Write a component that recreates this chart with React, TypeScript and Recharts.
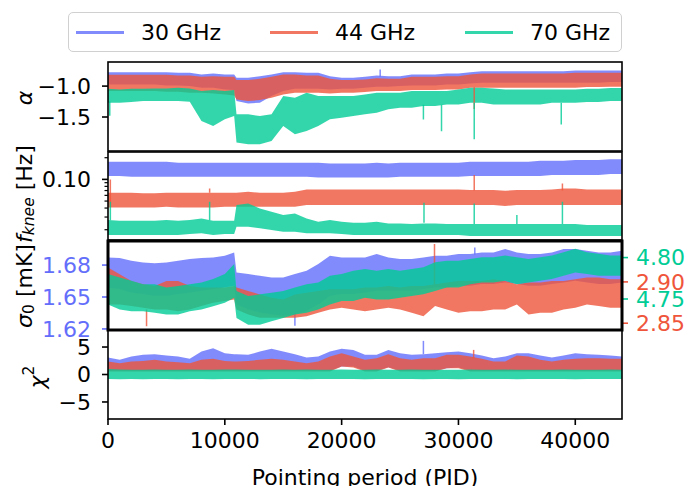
import React from "react";
import { ComposedChart, Area, Line, XAxis, YAxis } from "recharts";

const W = 689;
const H = 486;
const PLOT_LEFT = 108;
const PLOT_RIGHT = 622;
const AXIS_W = 60;
const FONT = "'DejaVu Sans', sans-serif";
const FS = 22;

const C30 = "#636EFA";
const C44 = "#EF553B";
const C70 = "#00CC96";

const SERIES = [
  { name: "30 GHz", color: C30 },
  { name: "44 GHz", color: C44 },
  { name: "70 GHz", color: C70 },
];

// pointing periods where the envelope of each band was sampled
const PID = [
  0, 1000, 2000, 3000, 4000, 5000, 6000, 7000, 8000, 9000, 10000, 10800, 11000,
  12000, 13000, 14000, 15000, 16000, 17000, 18000, 19000, 20000, 21000, 22000,
  23000, 24000, 25000, 26000, 27000, 28000, 29000, 30000, 31000, 32000, 33000,
  34000, 35000, 36000, 37000, 38000, 39000, 40000, 41000, 42000, 43000, 44000,
];
const PID_TICKS = [0, 10000, 20000, 30000, 40000];

// spectral index alpha: lower / upper envelope
const ALPHA_30_HI = [
  -0.774, -0.774, -0.774, -0.774, -0.774, -0.774, -0.785, -0.785, -0.812, -0.796, -0.812, -0.812,
  -0.866, -0.866, -0.839, -0.812, -0.774, -0.774, -0.785, -0.785, -0.839, -0.866, -0.866, -0.849,
  -0.828, -0.839, -0.839, -0.812, -0.812, -0.812, -0.796, -0.796, -0.774, -0.758, -0.758, -0.758,
  -0.758, -0.758, -0.758, -0.758, -0.758, -0.747, -0.747, -0.747, -0.747, -0.747,
];
const ALPHA_30_LO = [
  -0.973, -0.973, -0.973, -0.973, -0.973, -0.989, -0.989, -1.0, -1.027, -1.027, -1.054, -1.065,
  -1.242, -1.28, -1.269, -1.161, -1.081, -1.043, -1.043, -1.043, -1.054, -1.043, -1.043, -1.027,
  -1.011, -1.011, -1.0, -0.989, -0.989, -0.989, -0.973, -0.973, -0.957, -0.946, -0.946, -0.946,
  -0.946, -0.946, -0.946, -0.946, -0.946, -0.946, -0.946, -0.946, -0.935, -0.935,
];
const ALPHA_44_HI = [
  -0.817, -0.817, -0.817, -0.817, -0.817, -0.817, -0.828, -0.828, -0.849, -0.839, -0.849, -0.849,
  -0.903, -0.903, -0.882, -0.849, -0.812, -0.812, -0.828, -0.828, -0.882, -0.903, -0.903, -0.892,
  -0.871, -0.882, -0.882, -0.849, -0.849, -0.849, -0.839, -0.839, -0.812, -0.796, -0.796, -0.796,
  -0.796, -0.796, -0.796, -0.796, -0.796, -0.785, -0.785, -0.785, -0.785, -0.785,
];
const ALPHA_44_LO = [
  -1.081, -1.081, -1.081, -1.081, -1.081, -1.091, -1.091, -1.108, -1.108, -1.118, -1.134, -1.151,
  -1.215, -1.242, -1.226, -1.188, -1.134, -1.108, -1.108, -1.108, -1.118, -1.108, -1.108, -1.097,
  -1.081, -1.081, -1.081, -1.065, -1.065, -1.065, -1.054, -1.054, -1.027, -1.027, -1.027, -1.027,
  -1.027, -1.027, -1.027, -1.027, -1.027, -1.027, -1.016, -1.016, -1.011, -1.011,
];
const ALPHA_70_HI = [
  -1.043, -1.054, -1.043, -1.043, -1.038, -1.038, -1.027, -1.038, -1.081, -1.065, -1.081, -1.065,
  -1.457, -1.457, -1.484, -1.457, -1.161, -1.188, -1.108, -1.161, -1.161, -1.161, -1.161, -1.134,
  -1.108, -1.108, -1.108, -1.081, -1.081, -1.081, -1.081, -1.054, -1.027, -1.027, -1.038, -1.054,
  -1.054, -1.054, -1.054, -1.054, -1.054, -1.054, -1.043, -1.043, -1.032, -1.032,
];
const ALPHA_70_LO = [
  -1.269, -1.269, -1.258, -1.242, -1.242, -1.242, -1.242, -1.253, -1.565, -1.645, -1.538, -1.484,
  -1.914, -1.941, -1.941, -1.887, -1.645, -1.78, -1.726, -1.645, -1.538, -1.511, -1.484, -1.457,
  -1.43, -1.376, -1.349, -1.349, -1.323, -1.323, -1.296, -1.296, -1.269, -1.269, -1.296, -1.296,
  -1.296, -1.296, -1.296, -1.269, -1.269, -1.269, -1.258, -1.258, -1.242, -1.242,
];

// knee frequency [Hz]
const FKNEE_30_HI = [
  0.1759, 0.1759, 0.1759, 0.1759, 0.1759, 0.1759, 0.1704, 0.1704, 0.1704, 0.1704, 0.1704, 0.1704,
  0.1704, 0.1704, 0.1704, 0.1704, 0.1704, 0.1704, 0.1704, 0.1704, 0.1668, 0.1668, 0.1668, 0.1668,
  0.1704, 0.1668, 0.1704, 0.1704, 0.1704, 0.1704, 0.1704, 0.1704, 0.1759, 0.1759, 0.1759, 0.1759,
  0.1759, 0.1759, 0.1815, 0.1815, 0.1815, 0.1855, 0.1855, 0.1855, 0.1897, 0.1897,
];
const FKNEE_30_LO = [
  0.1113, 0.1113, 0.1089, 0.1089, 0.1089, 0.1089, 0.1089, 0.1089, 0.1089, 0.1089, 0.1089, 0.1089,
  0.1089, 0.1089, 0.1089, 0.1089, 0.1089, 0.1089, 0.1089, 0.1066, 0.1066, 0.1066, 0.1066, 0.1066,
  0.1066, 0.1066, 0.1089, 0.1089, 0.1089, 0.1089, 0.1089, 0.1089, 0.1113, 0.1113, 0.1113, 0.1113,
  0.1113, 0.1113, 0.1113, 0.1148, 0.1148, 0.1148, 0.1148, 0.1148, 0.1186, 0.1186,
];
const FKNEE_44_HI = [
  0.0653, 0.0653, 0.0653, 0.064, 0.064, 0.0653, 0.0653, 0.0653, 0.0653, 0.0653, 0.0653, 0.0653,
  0.0653, 0.0674, 0.0653, 0.0653, 0.0653, 0.0674, 0.0726, 0.0726, 0.0726, 0.0726, 0.0726, 0.0726,
  0.0726, 0.0726, 0.0726, 0.0726, 0.0726, 0.0726, 0.0726, 0.0726, 0.0711, 0.0711, 0.0711, 0.0696,
  0.0711, 0.0711, 0.0711, 0.0726, 0.075, 0.075, 0.0726, 0.0726, 0.0726, 0.0726,
];
const FKNEE_44_LO = [
  0.0408, 0.0408, 0.0408, 0.0408, 0.0408, 0.0417, 0.0408, 0.0408, 0.0408, 0.0408, 0.0417, 0.0417,
  0.0417, 0.0417, 0.0417, 0.0417, 0.0417, 0.0417, 0.044, 0.044, 0.044, 0.044, 0.044, 0.044,
  0.044, 0.044, 0.044, 0.044, 0.044, 0.044, 0.044, 0.044, 0.044, 0.044, 0.044, 0.0427,
  0.044, 0.044, 0.044, 0.044, 0.044, 0.044, 0.044, 0.044, 0.044, 0.044,
];
const FKNEE_70_HI = [
  0.0272, 0.0267, 0.0267, 0.0267, 0.0267, 0.0272, 0.0267, 0.0272, 0.0287, 0.0267, 0.0267, 0.0267,
  0.044, 0.0464, 0.0395, 0.0356, 0.032, 0.0337, 0.0287, 0.0258, 0.0272, 0.0258, 0.025, 0.025,
  0.0258, 0.0245, 0.0245, 0.024, 0.0245, 0.0245, 0.024, 0.024, 0.024, 0.024, 0.024, 0.024,
  0.024, 0.024, 0.024, 0.024, 0.024, 0.024, 0.0232, 0.0232, 0.0232, 0.0232,
];
const FKNEE_70_LO = [
  0.0169, 0.0169, 0.0169, 0.0169, 0.0169, 0.0169, 0.0169, 0.0174, 0.0178, 0.0169, 0.0174, 0.0174,
  0.022, 0.022, 0.0209, 0.0198, 0.0187, 0.0187, 0.0178, 0.0178, 0.0178, 0.0174, 0.0169, 0.0169,
  0.0169, 0.0169, 0.0169, 0.0169, 0.0169, 0.0169, 0.0169, 0.0169, 0.0163, 0.0163, 0.0163, 0.0163,
  0.0163, 0.0163, 0.0163, 0.0163, 0.0163, 0.0163, 0.0163, 0.0163, 0.0163, 0.0163,
];

// white noise level sigma_0 [mK], each channel on its own scale
const SIGMA_30_HI = [
  1.6872, 1.6866, 1.6841, 1.6825, 1.6816, 1.6825, 1.6841, 1.6857, 1.6866, 1.6872, 1.6888, 1.6919,
  1.6731, 1.6715, 1.67, 1.6684, 1.6684, 1.6715, 1.6747, 1.6809, 1.6888, 1.6872, 1.6872, 1.6872,
  1.6904, 1.6872, 1.6857, 1.6857, 1.6872, 1.6888, 1.6888, 1.6904, 1.6904, 1.6919, 1.6919, 1.6951,
  1.6919, 1.6904, 1.6904, 1.6919, 1.6951, 1.6951, 1.6935, 1.6919, 1.6919, 1.6935,
];
const SIGMA_30_LO = [
  1.659, 1.6574, 1.6543, 1.6527, 1.6511, 1.6511, 1.6527, 1.6543, 1.6558, 1.6574, 1.659, 1.6605,
  1.6433, 1.6386, 1.6354, 1.6338, 1.6323, 1.6338, 1.637, 1.6433, 1.6511, 1.6527, 1.6527, 1.6543,
  1.6558, 1.6558, 1.6558, 1.6558, 1.6574, 1.659, 1.659, 1.6605, 1.6605, 1.6621, 1.6621, 1.6637,
  1.6621, 1.6605, 1.6605, 1.6621, 1.6637, 1.6652, 1.6637, 1.6621, 1.6621, 1.6637,
];
const SIGMA_44_HI = [
  2.9175, 2.9094, 2.9012, 2.8972, 2.8951, 2.9012, 2.9012, 2.8951, 2.8931, 2.8931, 2.8931, 2.8951,
  2.8931, 2.889, 2.8849, 2.8809, 2.8788, 2.8849, 2.887, 2.889, 2.891, 2.891, 2.891, 2.8931,
  2.8931, 2.8951, 2.8931, 2.8951, 2.8951, 2.8972, 2.8992, 2.9012, 2.9012, 2.9012, 2.9033, 2.9012,
  2.8972, 2.8992, 2.8992, 2.9012, 2.9012, 2.9033, 2.9053, 2.9053, 2.9033, 2.9033,
];
const SIGMA_44_LO = [
  2.8727, 2.8727, 2.8707, 2.8687, 2.8666, 2.8666, 2.8646, 2.8666, 2.8707, 2.8748, 2.8768, 2.8788,
  2.8666, 2.8605, 2.8565, 2.8565, 2.8565, 2.8565, 2.8585, 2.8626, 2.8666, 2.8687, 2.8666, 2.8646,
  2.8666, 2.8687, 2.8666, 2.8626, 2.8585, 2.8707, 2.8666, 2.8626, 2.8646, 2.8646, 2.8666, 2.8666,
  2.8727, 2.8605, 2.8626, 2.8626, 2.8666, 2.8687, 2.8727, 2.8707, 2.8687, 2.8687,
];
const SIGMA_70_HI = [
  4.7801, 4.776, 4.7719, 4.7678, 4.7678, 4.7638, 4.7658, 4.7678, 4.7699, 4.774, 4.7801, 4.7923,
  4.7597, 4.7536, 4.7556, 4.7577, 4.7597, 4.7638, 4.7678, 4.7699, 4.778, 4.7801, 4.7841, 4.7862,
  4.7841, 4.7862, 4.7841, 4.7862, 4.7882, 4.7943, 4.7963, 4.7963, 4.7984, 4.8004, 4.8004, 4.8024,
  4.8004, 4.7984, 4.8004, 4.8024, 4.8065, 4.8106, 4.8065, 4.8045, 4.8024, 4.8024,
];
const SIGMA_70_LO = [
  4.7434, 4.7373, 4.7353, 4.7353, 4.7333, 4.7312, 4.7312, 4.7353, 4.7373, 4.7414, 4.7455, 4.7516,
  4.7271, 4.719, 4.719, 4.7231, 4.7271, 4.7312, 4.7333, 4.7373, 4.7434, 4.7475, 4.7475, 4.7516,
  4.7495, 4.7495, 4.7516, 4.7536, 4.7556, 4.7597, 4.7638, 4.7638, 4.7678, 4.7699, 4.7699, 4.7719,
  4.7678, 4.7699, 4.7719, 4.774, 4.778, 4.7821, 4.7801, 4.778, 4.778, 4.778,
];

// reduced chi-square
const CHI2_30_HI = [
  3.09, 2.67, 3.27, 3.58, 3.7, 3.45, 3.27, 2.85, 4.18, 4.79, 3.88, 3.7,
  3.7, 3.58, 4.18, 4.67, 4.18, 3.7, 3.09, 3.27, 4.18, 4.67, 4.48, 3.58,
  3.58, 4.48, 3.88, 3.58, 3.7, 3.88, 4.06, 4.18, 3.88, 3.45, 2.97, 3.27,
  3.88, 3.88, 3.45, 3.09, 3.45, 3.88, 3.7, 3.58, 3.45, 3.27,
];
const CHI2_30_LO = [
  0.67, 0.67, 0.67, 0.67, 0.67, 0.67, 0.67, 0.67, 0.67, 0.67, 0.67, 0.67,
  0.67, 0.67, 0.67, 0.67, 0.67, 0.67, 0.67, 0.67, 0.67, 1.45, 1.45, 0.67,
  0.67, 1.33, 0.67, 0.67, 0.67, 0.67, 1.15, 1.27, 0.67, 0.67, 0.67, 0.67,
  0.67, 0.67, 0.67, 0.67, 0.67, 0.67, 0.67, 0.67, 0.67, 0.67,
];
const CHI2_44_HI = [
  2.36, 2.06, 2.36, 2.48, 2.67, 2.36, 2.24, 2.06, 2.67, 2.85, 2.48, 2.36,
  2.36, 2.48, 2.67, 2.85, 2.67, 2.36, 2.06, 2.36, 3.27, 3.88, 3.27, 2.67,
  2.97, 3.7, 2.97, 2.67, 2.97, 2.97, 3.58, 3.58, 3.27, 2.85, 2.36, 2.36,
  3.45, 3.27, 2.67, 2.36, 2.67, 2.85, 2.97, 2.97, 2.85, 2.85,
];
const CHI2_44_LO = [
  0.55, 0.55, 0.55, 0.55, 0.55, 0.55, 0.55, 0.55, 0.55, 0.55, 0.55, 0.55,
  0.55, 0.55, 0.55, 0.55, 0.55, 0.55, 0.55, 0.55, 0.55, 1.45, 1.27, 0.55,
  0.55, 1.27, 0.55, 0.55, 0.55, 0.55, 1.15, 1.15, 0.55, 0.55, 0.55, 0.55,
  0.55, 0.55, 0.55, 0.55, 0.55, 0.55, 0.55, 0.55, 0.55, 0.55,
];
const CHI2_70_HI = [
  1.0, 0.9, 0.85, 0.85, 0.9, 0.85, 0.85, 0.9, 0.85, 0.85, 0.9, 0.9,
  0.9, 0.85, 0.85, 0.85, 0.9, 0.85, 0.9, 0.85, 0.85, 0.9, 0.85, 0.85,
  0.9, 0.85, 0.85, 0.9, 0.85, 0.85, 0.85, 0.85, 0.9, 0.85, 0.85, 0.9,
  0.85, 0.85, 0.85, 0.85, 0.9, 0.85, 0.85, 0.85, 0.9, 0.85,
];
const CHI2_70_LO = [
  -0.8, -0.85, -0.8, -0.85, -0.8, -0.8, -0.85, -0.8, -0.8, -0.85, -0.8, -0.8,
  -0.8, -0.8, -0.85, -0.8, -0.8, -0.8, -0.85, -0.8, -0.8, -0.8, -0.8, -0.85,
  -0.8, -0.8, -0.8, -0.8, -0.85, -0.8, -0.8, -0.85, -0.8, -0.8, -0.8, -0.8,
  -0.85, -0.8, -0.8, -0.8, -0.8, -0.85, -0.8, -0.8, -0.8, -0.8,
];

// isolated outlier periods: [pid, from, to]
type Spike = [number, number, number];
const ALPHA_SPIKES_30: Spike[] = [[23300, -0.85, -0.73]];
const ALPHA_SPIKES_44: Spike[] = [[31350, -1.02, -1.37]];
const ALPHA_SPIKES_70: Spike[] = [
  [150, -1.25, -1.48],
  [27000, -1.3, -1.54],
  [28550, -1.3, -1.73],
  [31350, -1.27, -1.86],
  [38800, -1.27, -1.62],
];
const FKNEE_SPIKES_44: Spike[] = [
  [200, 0.041, 0.1],
  [8700, 0.065, 0.075],
  [31350, 0.07, 0.1148],
  [38900, 0.07, 0.088],
];
const FKNEE_SPIKES_70: Spike[] = [
  [200, 0.027, 0.049],
  [8700, 0.027, 0.049],
  [27050, 0.025, 0.0474],
  [31350, 0.024, 0.0464],
  [35000, 0.024, 0.032],
  [38900, 0.024, 0.049],
];
const SIGMA_SPIKES_30: Spike[] = [
  [16000, 1.635, 1.6229],
  [31400, 1.69, 1.6966],
];
const SIGMA_SPIKES_44: Spike[] = [
  [3300, 2.8666, 2.8463],
  [27950, 2.897, 2.946],
];
const CHI2_SPIKES_30: Spike[] = [[27000, 3.7, 6.12]];
const CHI2_SPIKES_44: Spike[] = [[31300, 2.9, 4.48]];

const LOG_TICKS = [0.02, 0.03, 0.04, 0.05, 0.06, 0.07, 0.08, 0.09, 0.1, 0.2];

type Band = { color: string; lo: number[]; hi: number[]; spikes?: Spike[] };

const minus = (s: string) => s.replace("-", "\u2212");

function spikeRows(spikes: Spike[]) {
  return spikes.flatMap(([pid, from, to]) => [
    { pid, v: from },
    { pid, v: to },
    { pid, v: null },
  ]);
}

const LogTick = (props: any) => {
  const { x, y, payload } = props;
  const major = Math.abs(payload.value - 0.1) < 1e-9;
  return (
    <g>
      <line
        x1={x - (major ? 6 : 3.5)}
        x2={x}
        y1={y}
        y2={y}
        stroke="#000"
        strokeWidth={major ? 1.6 : 1.2}
      />
      {major && (
        <text x={x - 17} y={y} dy="0.355em" textAnchor="end" fontSize={FS} fill="#000">
          0.10
        </text>
      )}
    </g>
  );
};

interface StripProps {
  top: number;
  plotHeight: number;
  bands: Band[];
  side?: "left" | "right";
  domain: [number, number];
  ticks: number[];
  format?: (v: number) => string;
  color?: string;
  log?: boolean;
  showX?: boolean;
}

const Strip: React.FC<StripProps> = ({
  top,
  plotHeight,
  bands,
  side = "left",
  domain,
  ticks,
  format = (v) => String(v),
  color = "#000",
  log = false,
  showX = false,
}) => {
  const data = PID.map((pid, i) => {
    const row: Record<string, any> = { pid };
    bands.forEach((b, j) => {
      row["s" + j] = [b.lo[i], b.hi[i]];
    });
    return row;
  });
  const xHeight = showX ? 67 : 0;
  const margin =
    side === "left"
      ? { top: 0, bottom: 0, left: PLOT_LEFT - AXIS_W, right: W - PLOT_RIGHT }
      : { top: 0, bottom: 0, left: PLOT_LEFT, right: W - PLOT_RIGHT - AXIS_W };

  return (
    <div style={{ position: "absolute", left: 0, top }}>
      <ComposedChart width={W} height={plotHeight + xHeight} data={data} margin={margin}>
        <XAxis
          type="number"
          dataKey="pid"
          domain={[0, 44000]}
          allowDataOverflow
          hide={!showX}
          ticks={PID_TICKS}
          interval={0}
          height={xHeight}
          axisLine={false}
          tickSize={6}
          tickMargin={7}
          tickLine={{ stroke: "#000", strokeWidth: 1.6 }}
          tick={{ fill: "#000", fontSize: FS }}
          label={
            showX
              ? { value: "Pointing period (PID)", position: "insideBottom", offset: 1, fill: "#000", fontSize: FS }
              : undefined
          }
        />
        <YAxis
          type="number"
          orientation={side}
          width={AXIS_W}
          scale={log ? "log" : "auto"}
          domain={domain}
          allowDataOverflow
          ticks={ticks}
          interval={0}
          axisLine={false}
          tickSize={log ? 0 : 6}
          tickMargin={log ? 0 : side === "left" ? 11 : 8}
          tickFormatter={format}
          tickLine={log ? false : { stroke: color, strokeWidth: 1.6 }}
          tick={log ? LogTick : { fill: color, fontSize: FS }}
        />
        {bands.map((b, j) => (
          <Area
            key={"a" + j}
            type="linear"
            dataKey={"s" + j}
            stroke="none"
            fill={b.color}
            fillOpacity={0.8}
            dot={false}
            activeDot={false}
            isAnimationActive={false}
          />
        ))}
        {bands.map((b, j) =>
          b.spikes ? (
            <Line
              key={"l" + j}
              data={spikeRows(b.spikes)}
              dataKey="v"
              type="linear"
              stroke={b.color}
              strokeOpacity={0.8}
              strokeWidth={1.5}
              dot={false}
              activeDot={false}
              connectNulls={false}
              isAnimationActive={false}
            />
          ) : null
        )}
      </ComposedChart>
    </div>
  );
};

// plot rectangles of the four stacked panels
const FRAMES = [
  { y: 62, h: 89, lw: 1.6 },
  { y: 152, h: 88, lw: 1.6 },
  { y: 241, h: 89, lw: 3 },
  { y: 330, h: 89, lw: 1.6 },
];

const LEGEND_X = [76, 270, 465];

export default function App() {
  return (
    <div
      style={{
        position: "absolute",
        left: 0,
        top: 0,
        width: W,
        height: H,
        background: "#fff",
        fontFamily: FONT,
        overflow: "hidden",
      }}
    >
      {/* tick labels at the panel edges must not be clipped by each strip */}
      <style>{".recharts-surface{overflow:visible}"}</style>
      <Strip
        top={FRAMES[0].y}
        plotHeight={FRAMES[0].h}
        domain={[-2.05, -0.61]}
        ticks={[-1.5, -1.0]}
        format={(v) => minus(v.toFixed(1))}
        bands={[
          { color: C30, lo: ALPHA_30_LO, hi: ALPHA_30_HI, spikes: ALPHA_SPIKES_30 },
          { color: C44, lo: ALPHA_44_LO, hi: ALPHA_44_HI, spikes: ALPHA_SPIKES_44 },
          { color: C70, lo: ALPHA_70_LO, hi: ALPHA_70_HI, spikes: ALPHA_SPIKES_70 },
        ]}
      />
      <Strip
        top={FRAMES[1].y}
        plotHeight={FRAMES[1].h}
        log
        domain={[0.0144, 0.24]}
        ticks={LOG_TICKS}
        bands={[
          { color: C30, lo: FKNEE_30_LO, hi: FKNEE_30_HI },
          { color: C44, lo: FKNEE_44_LO, hi: FKNEE_44_HI, spikes: FKNEE_SPIKES_44 },
          { color: C70, lo: FKNEE_70_LO, hi: FKNEE_70_HI, spikes: FKNEE_SPIKES_70 },
        ]}
      />
      {/* sigma_0: three channels share the panel, each with its own axis */}
      <Strip
        top={FRAMES[2].y}
        plotHeight={FRAMES[2].h}
        domain={[1.619, 1.7026]}
        ticks={[1.62, 1.65, 1.68]}
        format={(v) => v.toFixed(2)}
        color={C30}
        bands={[{ color: C30, lo: SIGMA_30_LO, hi: SIGMA_30_HI, spikes: SIGMA_SPIKES_30 }]}
      />
      <Strip
        top={FRAMES[2].y}
        plotHeight={FRAMES[2].h}
        side="right"
        domain={[2.8418, 2.9495]}
        ticks={[2.85, 2.9]}
        format={(v) => v.toFixed(2)}
        color={C44}
        bands={[{ color: C44, lo: SIGMA_44_LO, hi: SIGMA_44_HI, spikes: SIGMA_SPIKES_44 }]}
      />
      <Strip
        top={FRAMES[2].y}
        plotHeight={FRAMES[2].h}
        side="right"
        domain={[4.7126, 4.82]}
        ticks={[4.75, 4.8]}
        format={(v) => v.toFixed(2)}
        color={C70}
        bands={[{ color: C70, lo: SIGMA_70_LO, hi: SIGMA_70_HI }]}
      />
      <Strip
        top={FRAMES[3].y}
        plotHeight={FRAMES[3].h}
        showX
        domain={[-8.1, 8.1]}
        ticks={[-5, 0, 5]}
        format={(v) => minus(String(v))}
        bands={[
          { color: C30, lo: CHI2_30_LO, hi: CHI2_30_HI, spikes: CHI2_SPIKES_30 },
          { color: C44, lo: CHI2_44_LO, hi: CHI2_44_HI, spikes: CHI2_SPIKES_44 },
          { color: C70, lo: CHI2_70_LO, hi: CHI2_70_HI },
        ]}
      />

      {/* panel frames and y labels */}
      <svg
        width={W}
        height={H}
        style={{ position: "absolute", left: 0, top: 0, pointerEvents: "none" }}
        fontFamily={FONT}
        fontSize={FS}
      >
        {FRAMES.map((f, i) => (
          <rect
            key={i}
            x={PLOT_LEFT}
            y={f.y}
            width={PLOT_RIGHT - PLOT_LEFT}
            height={f.h}
            fill="none"
            stroke="#000"
            strokeWidth={f.lw}
          />
        ))}
        <text x={24} y={98} transform="rotate(-90 24 98)" textAnchor="middle" dominantBaseline="central" fontStyle="italic">
          α
        </text>
        <text x={24} y={194} transform="rotate(-90 24 194)" textAnchor="middle" dominantBaseline="central">
          <tspan fontStyle="italic">f</tspan>
          <tspan fontStyle="italic" fontSize={15.5} dy={5}>knee</tspan>
          <tspan dy={-5}> [Hz]</tspan>
        </text>
        <text x={24} y={286} transform="rotate(-90 24 286)" textAnchor="middle" dominantBaseline="central">
          <tspan fontStyle="italic">σ</tspan>
          <tspan fontSize={15.5} dy={5}>0</tspan>
          <tspan dy={-5}> [mK]</tspan>
        </text>
        <text x={37} y={377} transform="rotate(-90 37 377)" textAnchor="middle" dominantBaseline="central">
          <tspan fontStyle="italic">χ</tspan>
          <tspan fontSize={15.5} dy={-8}>2</tspan>
        </text>
      </svg>

      {/* legend */}
      <div
        style={{
          position: "absolute",
          left: 68,
          top: 12,
          width: 554,
          height: 40,
          boxSizing: "border-box",
          border: "1.5px solid #d0d0d0",
          borderRadius: 5,
          background: "#fff",
        }}
      />
      {SERIES.map((s, i) => (
        <div
          key={s.name}
          style={{
            position: "absolute",
            left: LEGEND_X[i],
            top: 12,
            height: 40,
            display: "flex",
            alignItems: "center",
            fontSize: FS,
            color: "#000",
          }}
        >
          <span
            style={{ display: "inline-block", width: 48, height: 3, background: s.color, opacity: 0.8, marginRight: 17 }}
          />
          <span>{s.name}</span>
        </div>
      ))}
    </div>
  );
}
